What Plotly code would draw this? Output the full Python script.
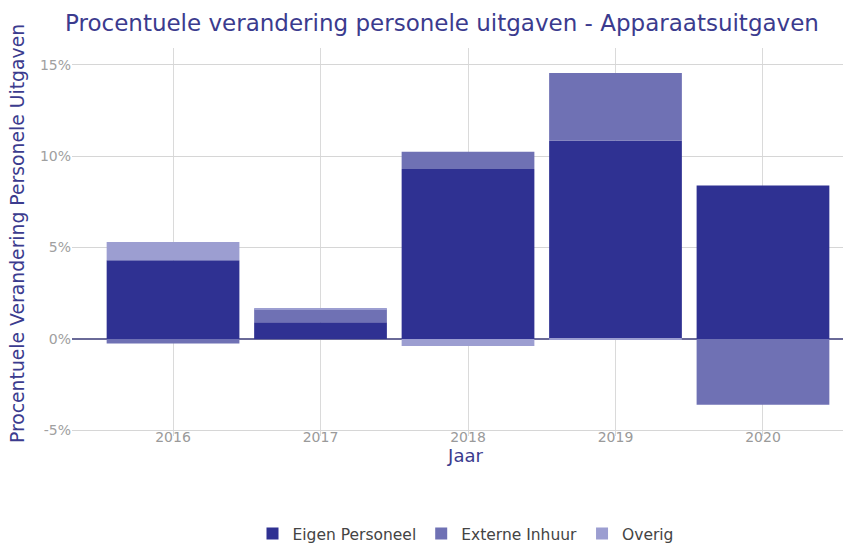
import plotly.graph_objects as go

years = ["2016", "2017", "2018", "2019", "2020"]
eigen_personeel = [4.3, 0.92, 9.3, 10.85, 8.4]
externe_inhuur = [-0.25, 0.7, 0.95, 3.7, -3.6]
overig = [1.0, 0.08, -0.38, -0.05, 0.0]

series = [
    ("Eigen Personeel", eigen_personeel, "#2f3192"),
    ("Externe Inhuur", externe_inhuur, "#6f71b4"),
    ("Overig", overig, "#9c9ed1"),
]

fig = go.Figure()
for name, vals, col in series:
    fig.add_trace(go.Bar(
        x=years, y=[v / 100 for v in vals], name=name,
        marker=dict(color=col, line=dict(width=0)),
        width=0.9,
    ))

title_col = "#3b3b8e"
fig.update_layout(
    barmode="relative",
    width=851, height=543,
    margin=dict(l=64, r=0, t=40, b=111),
    paper_bgcolor="white", plot_bgcolor="white",
    font=dict(family="DejaVu Sans, Verdana, sans-serif"),
    title=dict(text="Procentuele verandering personele uitgaven - Apparaatsuitgaven",
               x=0.067, xanchor="left", y=0.972, yanchor="middle",
               font=dict(size=23, color=title_col)),
    xaxis=dict(
        type="category", range=[-0.685, 4.651],
        showgrid=True, gridcolor="#dadada", gridwidth=1,
        tickfont=dict(size=14, color="#9a9a9a"),
        ticks="", zeroline=False, automargin=False,
        ticklabelstandoff=-9,
        title=dict(text="Jaar", font=dict(size=18, color=title_col), standoff=0),
    ),
    yaxis=dict(
        range=[-0.0531, 0.1592],
        tickvals=[-0.05, 0, 0.05, 0.10, 0.15],
        ticktext=["-5%", "0%", "5%", "10%", "15%"],
        showgrid=True, gridcolor="#d6d6d6", gridwidth=1,
        zeroline=True, zerolinecolor="#6a6a98", zerolinewidth=1.5,
        tickfont=dict(size=14, color="#a0a0a0"),
        ticks="", automargin=False,
    ),
    legend=dict(orientation="h", x=0.5, xanchor="center", y=-0.253, yanchor="middle",
                font=dict(size=15.5, color="#444444"), traceorder="normal"),
    bargap=0.1,
)

fig.add_annotation(
    text="Procentuele Verandering Personele Uitgaven",
    xref="paper", yref="paper", x=-0.0699, y=0.523,
    xanchor="center", yanchor="middle", textangle=-90, showarrow=False,
    font=dict(size=18.8, color=title_col),
)

fig.write_html("out.html")
